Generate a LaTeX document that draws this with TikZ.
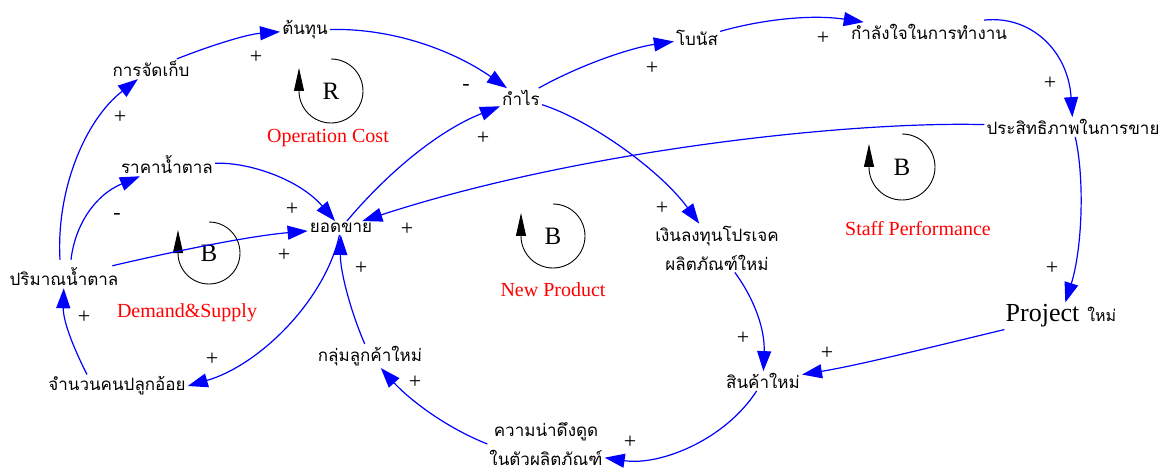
\documentclass[tikz,border=0pt]{standalone}
\usepackage{fontspec}
\setmainfont{Liberation Serif}
\newfontfamily\thaifont[Script=Thai]{Loma}
\usetikzlibrary{arrows.meta,calc}
\begin{document}
\begin{tikzpicture}[x=1pt,y=1pt,
  th/.style={font=\thaifont\fontsize{17}{29}\selectfont, inner sep=2pt, text=black},
  lbl/.style={font=\fontsize{20}{22}\selectfont, text=red},
  pol/.style={font=\fontsize{22}{24}\selectfont, inner sep=0pt},
  link/.style={draw=blue, line width=1.2pt, -{Triangle[length=20pt,width=14pt]}},
  loopline/.style={draw=black, line width=0.9pt, -{Triangle[length=23pt,width=10pt]}},
  looptxt/.style={font=\fontsize{25}{27}\selectfont}]
\useasboundingbox (0,0) rectangle (1170,-473);
% variables
\node[th] (ton) at (305,-30) {ต้นทุน};
\node[th] (jad) at (151,-69) {การจัดเก็บ};
\node[th] (rakha) at (167,-165) {ราคาน้ำตาล};
\node[th] (yod) at (341,-228) {ยอดขาย};
\node[th] (kamrai) at (521,-98) {กำไร};
\node[th] (bonus) at (697,-38) {โบนัส};
\node[th] (kamlang) at (929,-32) {กำลังใจในการทำงาน};
\node[th] (prasit) at (1073,-127) {ประสิทธิภาพในการขาย};
\node[th, align=center] (invest) at (717,-248) {เงินลงทุนโปรเจค\\ผลิตภัณฑ์ใหม่};
\node[inner sep=2pt] (project) at (1061,-316) {{\fontsize{26}{28}\selectfont Project}\hspace{8pt}{\thaifont\fontsize{16}{18}\selectfont ใหม่}};
\node[th] (sinkha) at (763,-381) {สินค้าใหม่};
\node[th, align=center] (kwam) at (546,-444) {ความน่าดึงดูด\\ในตัวผลิตภัณฑ์};
\node[th] (klum) at (370,-356) {กลุ่มลูกค้าใหม่};
\node[th] (jamnuan) at (117,-386) {จำนวนคนปลูกอ้อย};
\node[th] (parimarn) at (64,-277) {ปริมาณน้ำตาล};
% loop labels
\node[lbl] (opcost) at (328,-138) {Operation Cost};
\node[lbl] (staff) at (918,-229) {Staff Performance};
\node[lbl] (newprod) at (553,-290) {New Product};
\node[lbl] (demand) at (187,-313) {Demand\&Supply};
% loop symbols
\node[looptxt] (loopR) at (331,-91) {R};
\draw[loopline] (331,-59) arc[start angle=90,end angle=-180,radius=32pt] -- ++(0,23);
\node[looptxt] (loopS) at (902,-167) {B};
\draw[loopline] (902,-134) arc[start angle=90,end angle=-180,radius=33pt] -- ++(0,23);
\node[looptxt] (loopN) at (553,-236) {B};
\draw[loopline] (553,-204) arc[start angle=90,end angle=-180,radius=32pt] -- ++(0,23);
\node[looptxt] (loopD) at (209,-253) {B};
\draw[loopline] (209,-222) arc[start angle=90,end angle=-180,radius=31pt] -- ++(0,23);
% links
\draw[link] (jad) .. controls (220,-42) and (250,-34) .. (ton);
\draw[link] ($(parimarn.north)+(-4,6)$) .. controls (56,-190) and (85,-120) .. (jad);
\draw[link] ($(parimarn.north)+(7,6)$) .. controls (75,-225) and (95,-195) .. (rakha);
\draw[link] (rakha) .. controls (250,-162) and (300,-180) .. (yod);
\draw[link] (parimarn) .. controls (180,-250) and (250,-236) .. (yod);
\draw[link] (yod) .. controls (390,-170) and (440,-130) .. (kamrai);
\draw[link] (ton) .. controls (400,-28) and (460,-55) .. (kamrai);
\draw[link] (kamrai) .. controls (580,-65) and (630,-48) .. (bonus);
\draw[link] (bonus) .. controls (760,-20) and (810,-14) .. (kamlang);
\draw[link] ([xshift=-25pt,yshift=2pt]kamlang.north east) .. controls (1030,-15) and (1068,-50) .. (prasit);
\draw[link] (prasit) .. controls (850,-121) and (580,-150) .. (yod);
\draw[link] (kamrai) .. controls (590,-120) and (660,-170) .. (invest);
\draw[link] (prasit) .. controls (1085,-180) and (1082,-250) .. (project);
\draw[link] (project) .. controls (940,-345) and (860,-365) .. (sinkha);
\draw[link] (invest) .. controls (755,-300) and (765,-330) .. (sinkha);
\draw[link] (sinkha) .. controls (725,-440) and (660,-466) .. ([yshift=10pt]kwam.south east);
\draw[link] (kwam.west) .. controls (440,-425) and (405,-395) .. (klum);
\draw[link] (klum) .. controls (350,-310) and (340,-270) .. (yod);
\draw[link] (yod) .. controls (325,-300) and (260,-365) .. (jamnuan.east);
\draw[link] ([xshift=-30pt]jamnuan.north) .. controls (72,-345) and (63,-320) .. (parimarn);
% polarities
\node[pol] (p1) at (256,-57) {+};
\node[pol] (p2) at (120,-117) {+};
\node[pol] (p3) at (117,-216) {-};
\node[pol] (p4) at (292,-209) {+};
\node[pol] (p5) at (284,-255) {+};
\node[pol] (p6) at (483,-138) {+};
\node[pol] (p7) at (466,-87) {-};
\node[pol] (p8) at (652,-68) {+};
\node[pol] (p9) at (823,-38) {+};
\node[pol] (p10) at (1050,-83) {+};
\node[pol] (p11) at (407,-229) {+};
\node[pol] (p12) at (662,-208) {+};
\node[pol] (p13) at (1052,-268) {+};
\node[pol] (p14) at (827,-353) {+};
\node[pol] (p15) at (743,-338) {+};
\node[pol] (p16) at (630,-442) {+};
\node[pol] (p17) at (415,-382) {+};
\node[pol] (p18) at (361,-268) {+};
\node[pol] (p19) at (212,-359) {+};
\node[pol] (p20) at (84,-317) {+};
\end{tikzpicture}
\end{document}
